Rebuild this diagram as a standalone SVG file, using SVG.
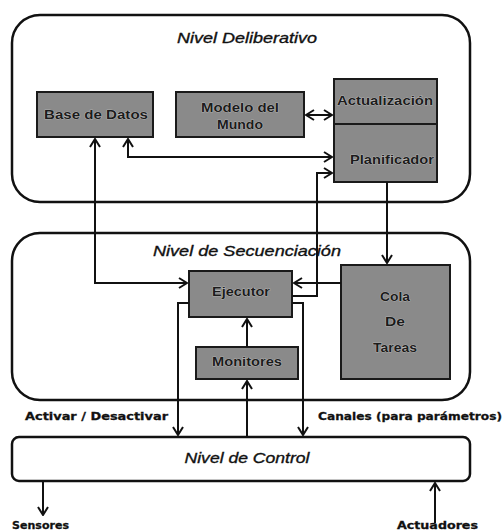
<svg xmlns="http://www.w3.org/2000/svg" width="504" height="531" viewBox="0 0 504 531">
  <style>
    .level { fill: #ffffff; stroke: #111111; stroke-width: 2.5; }
    .box { fill: #8a8a8a; stroke: #1a1a1a; stroke-width: 2; }
    .title { font-family: "Liberation Sans", Arial, sans-serif; font-style: italic; font-size: 15px; fill: #111111; text-anchor: middle; stroke: #111111; stroke-width: 0.35; }
    .btxt { font-family: "Liberation Sans", Arial, sans-serif; font-weight: bold; font-size: 12px; fill: #1c1c1c; text-anchor: middle; stroke: #cfcfcf; stroke-width: 0.6; paint-order: stroke; }
    .lbl { font-family: "DejaVu Sans", Verdana, sans-serif; font-weight: bold; font-size: 11px; fill: #111111; stroke: #111111; stroke-width: 0.3; }
    .wire { fill: none; stroke: #111111; stroke-width: 2; }
  </style>
  <defs>
    <marker id="arrow" viewBox="0 0 10 12" refX="9" refY="6" markerWidth="10" markerHeight="12" markerUnits="userSpaceOnUse" orient="auto-start-reverse">
      <path d="M1,1 L9,6 L1,11" fill="none" stroke="#111111" stroke-width="2"/>
    </marker>
  </defs>

  <rect width="504" height="531" fill="#ffffff"/>

  <!-- Level containers -->
  <g id="nivel-deliberativo">
    <rect class="level" x="12" y="15" width="458" height="187" rx="28" ry="28"/>
    <text class="title" x="247" y="43" textLength="140" lengthAdjust="spacingAndGlyphs">Nivel Deliberativo</text>
  </g>
  <g id="nivel-secuenciacion">
    <rect class="level" x="12" y="233" width="458" height="167" rx="28" ry="28"/>
    <text class="title" x="247" y="256" textLength="188" lengthAdjust="spacingAndGlyphs">Nivel de Secuenciación</text>
  </g>
  <g id="nivel-control">
    <rect class="level" x="12" y="437" width="458" height="44" rx="7" ry="7"/>
    <text class="title" x="247" y="463" textLength="125" lengthAdjust="spacingAndGlyphs">Nivel de Control</text>
  </g>

  <!-- Deliberative components -->
  <g id="base-datos">
    <rect class="box" x="37" y="92" width="116" height="45"/>
    <text class="btxt" x="96" y="119" textLength="104" lengthAdjust="spacingAndGlyphs">Base de Datos</text>
  </g>
  <g id="modelo-mundo">
    <rect class="box" x="176" y="92" width="128" height="45"/>
    <text class="btxt" x="240" y="112" textLength="78" lengthAdjust="spacingAndGlyphs">Modelo del</text>
    <text class="btxt" x="240" y="129" textLength="46" lengthAdjust="spacingAndGlyphs">Mundo</text>
  </g>
  <g id="actualizacion">
    <rect class="box" x="334" y="79" width="103" height="45"/>
    <text class="btxt" x="385" y="105" textLength="96" lengthAdjust="spacingAndGlyphs">Actualización</text>
  </g>
  <g id="planificador">
    <rect class="box" x="334" y="124" width="103" height="58"/>
    <text class="btxt" x="392" y="164" textLength="84" lengthAdjust="spacingAndGlyphs">Planificador</text>
  </g>

  <!-- Sequencing components -->
  <g id="ejecutor">
    <rect class="box" x="189" y="271" width="103" height="46"/>
    <text class="btxt" x="241" y="296" textLength="58" lengthAdjust="spacingAndGlyphs">Ejecutor</text>
  </g>
  <g id="monitores">
    <rect class="box" x="196" y="347" width="102" height="32"/>
    <text class="btxt" x="247" y="366" textLength="70" lengthAdjust="spacingAndGlyphs">Monitores</text>
  </g>
  <g id="cola-tareas">
    <rect class="box" x="341" y="265" width="109" height="114"/>
    <text class="btxt" x="395" y="301" textLength="30" lengthAdjust="spacingAndGlyphs">Cola</text>
    <text class="btxt" x="395" y="326" textLength="20" lengthAdjust="spacingAndGlyphs">De</text>
    <text class="btxt" x="395" y="352" textLength="44" lengthAdjust="spacingAndGlyphs">Tareas</text>
  </g>

  <!-- Connectors -->
  <g id="connectors">
    <path class="wire" d="M95,139 V283 H187" marker-start="url(#arrow)" marker-end="url(#arrow)"/>
    <path class="wire" d="M128,139 V157 H332" marker-start="url(#arrow)" marker-end="url(#arrow)"/>
    <path class="wire" d="M306,115 H332" marker-start="url(#arrow)" marker-end="url(#arrow)"/>
    <path class="wire" d="M292,296 H317 V173 H332" marker-end="url(#arrow)"/>
    <path class="wire" d="M387,182 V263" marker-end="url(#arrow)"/>
    <path class="wire" d="M341,283 H294" marker-end="url(#arrow)"/>
    <path class="wire" d="M247,347 V319" marker-end="url(#arrow)"/>
    <path class="wire" d="M247,437 V381" marker-end="url(#arrow)"/>
    <path class="wire" d="M189,303 H178 V435" marker-end="url(#arrow)"/>
    <path class="wire" d="M292,303 H303 V435" marker-end="url(#arrow)"/>
    <path class="wire" d="M43,481 V515" marker-end="url(#arrow)"/>
    <path class="wire" d="M435,523 V483" marker-end="url(#arrow)"/>
  </g>

  <!-- Interface labels -->
  <g id="labels">
    <text class="lbl" x="25" y="420" textLength="143" lengthAdjust="spacingAndGlyphs">Activar / Desactivar</text>
    <text class="lbl" x="318" y="420" textLength="184" lengthAdjust="spacingAndGlyphs">Canales (para parámetros)</text>
    <text class="lbl" x="12" y="529" textLength="57" lengthAdjust="spacingAndGlyphs">Sensores</text>
    <text class="lbl" x="397" y="529" textLength="81" lengthAdjust="spacingAndGlyphs">Actuadores</text>
  </g>
</svg>
